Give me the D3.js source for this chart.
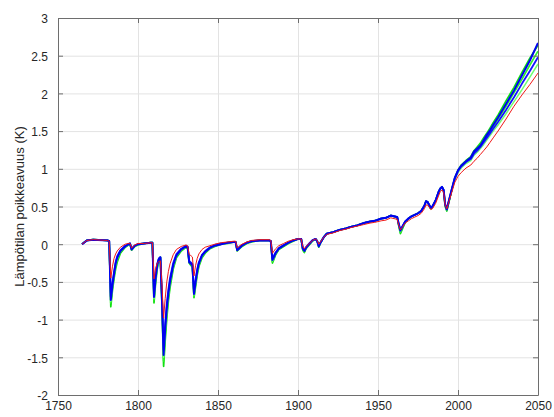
<!DOCTYPE html>
<html><head><meta charset="utf-8">
<script src="https://cdn.jsdelivr.net/npm/d3@7"></script>
<style>body{margin:0;background:#fff}svg{display:block}</style>
</head><body><svg id="c" width="554" height="417"></svg>
<script>
// ---- data ----
const years = [
1765,1768,1772,1781,1782,1783,1784,1785,1786,1787,
1789,1792,1794,1795,1796,1798,1800,1804,1808,1809,
1810,1811,1812,1813,1814,1815,1816,1817,1818,1819,
1820,1822,1824,1827,1830,1831,1832,1833,1834,1835,
1836,1837,1838,1840,1842,1845,1848,1852,1856,1860,
1861,1862,1863,1865,1868,1871,1876,1882,1883,1884,
1885,1886,1888,1891,1894,1897,1900,1902,1903,1904,
1905,1907,1909,1911,1912,1913,1914,1916,1918,1922,
1926,1930,1933,1937,1941,1945,1948,1952,1955,1958,
1960,1962,1963,1964,1965,1967,1969,1971,1973,1975,
1977,1979,1980,1981,1982,1983,1984,1986,1988,1989,
1990,1991,1992,1993,1994,1996,1998,2000,2002,2005,
2008,2010,2012,2014,2016,2018,2020,2022,2025,2030,2035,2040,2045,2050];

const green1 = [
0.00,0.05,0.06,0.05,0.04,-0.83,-0.62,-0.46,-0.33,-0.24,
-0.12,-0.04,-0.01,0.00,-0.08,-0.03,-0.01,0.01,0.02,0.02,
-0.78,-0.52,-0.33,-0.22,-0.18,-0.82,-1.62,-1.28,-0.98,-0.75,
-0.58,-0.33,-0.18,-0.09,-0.04,-0.05,-0.25,-0.28,-0.30,-0.71,
-0.56,-0.41,-0.30,-0.18,-0.12,-0.06,-0.03,0.00,0.01,0.03,
0.03,-0.09,-0.07,-0.03,0.01,0.03,0.05,0.05,0.04,-0.25,
-0.20,-0.14,-0.07,-0.03,0.01,0.04,0.07,0.07,-0.08,-0.11,
-0.06,-0.01,0.04,0.07,0.04,-0.04,0.01,0.09,0.14,0.16,
0.19,0.21,0.23,0.25,0.28,0.30,0.31,0.34,0.35,0.38,
0.37,0.36,0.24,0.14,0.19,0.29,0.34,0.37,0.39,0.41,
0.44,0.51,0.57,0.56,0.51,0.47,0.49,0.58,0.70,0.74,
0.76,0.71,0.50,0.44,0.53,0.71,0.88,0.98,1.05,1.11,
1.16,1.24,1.29,1.34,1.41,1.47,1.54,1.61,1.71,1.90,2.08,2.28,2.47,2.64];

const green2 = [
0.00,0.05,0.06,0.05,0.04,-0.78,-0.58,-0.42,-0.29,-0.20,
-0.10,-0.03,0.00,0.01,-0.07,-0.02,0.00,0.01,0.02,0.02,
-0.74,-0.48,-0.30,-0.20,-0.17,-0.78,-1.55,-1.20,-0.92,-0.70,
-0.54,-0.30,-0.16,-0.08,-0.03,-0.04,-0.24,-0.27,-0.29,-0.69,
-0.53,-0.38,-0.28,-0.16,-0.11,-0.05,-0.02,0.00,0.02,0.03,
0.03,-0.08,-0.06,-0.02,0.02,0.04,0.05,0.05,0.04,-0.23,
-0.18,-0.13,-0.06,-0.02,0.02,0.05,0.07,0.07,-0.07,-0.10,
-0.05,0.00,0.05,0.07,0.04,-0.03,0.02,0.09,0.14,0.16,
0.19,0.21,0.23,0.25,0.28,0.30,0.31,0.34,0.35,0.38,
0.37,0.36,0.25,0.16,0.21,0.30,0.34,0.37,0.39,0.41,
0.44,0.51,0.57,0.56,0.52,0.48,0.50,0.58,0.70,0.74,
0.76,0.72,0.51,0.45,0.54,0.71,0.87,0.97,1.03,1.09,
1.14,1.21,1.26,1.31,1.37,1.43,1.49,1.56,1.66,1.83,2.01,2.19,2.38,2.56];

const green3 = [
0.00,0.05,0.06,0.05,0.04,-0.76,-0.56,-0.40,-0.27,-0.19,
-0.09,-0.03,0.00,0.01,-0.07,-0.02,0.00,0.01,0.02,0.02,
-0.72,-0.46,-0.29,-0.20,-0.17,-0.76,-1.50,-1.16,-0.88,-0.67,
-0.51,-0.29,-0.15,-0.07,-0.03,-0.04,-0.23,-0.26,-0.28,-0.67,
-0.51,-0.37,-0.27,-0.15,-0.10,-0.05,-0.02,0.00,0.02,0.03,
0.03,-0.08,-0.06,-0.02,0.02,0.04,0.05,0.05,0.04,-0.22,
-0.18,-0.12,-0.06,-0.02,0.02,0.05,0.07,0.07,-0.06,-0.09,
-0.05,0.00,0.05,0.07,0.04,-0.03,0.02,0.09,0.14,0.16,
0.19,0.21,0.23,0.25,0.28,0.30,0.31,0.34,0.35,0.38,
0.37,0.36,0.26,0.17,0.22,0.30,0.34,0.37,0.39,0.41,
0.44,0.51,0.57,0.56,0.52,0.48,0.50,0.58,0.70,0.74,
0.76,0.72,0.52,0.46,0.54,0.71,0.86,0.95,1.01,1.07,
1.11,1.18,1.22,1.27,1.32,1.38,1.44,1.50,1.58,1.73,1.89,2.05,2.22,2.39];

const blue1 = [
0.00,0.05,0.06,0.05,0.04,-0.74,-0.55,-0.40,-0.26,-0.18,
-0.09,-0.03,0.00,0.01,-0.07,-0.02,0.00,0.01,0.02,0.02,
-0.70,-0.45,-0.28,-0.20,-0.18,-0.75,-1.47,-1.12,-0.85,-0.65,
-0.50,-0.28,-0.15,-0.07,-0.03,-0.04,-0.24,-0.26,-0.28,-0.66,
-0.50,-0.36,-0.26,-0.15,-0.10,-0.05,-0.02,0.00,0.02,0.03,
0.03,-0.08,-0.06,-0.02,0.02,0.04,0.05,0.05,0.04,-0.21,
-0.17,-0.12,-0.06,-0.02,0.02,0.05,0.07,0.07,-0.06,-0.09,
-0.05,0.00,0.05,0.07,0.04,-0.03,0.02,0.09,0.14,0.16,
0.19,0.21,0.23,0.25,0.28,0.30,0.31,0.34,0.35,0.38,
0.37,0.36,0.26,0.18,0.22,0.30,0.34,0.37,0.39,0.41,
0.44,0.51,0.57,0.56,0.52,0.48,0.50,0.58,0.70,0.74,
0.76,0.72,0.52,0.46,0.55,0.72,0.88,0.98,1.04,1.10,
1.15,1.23,1.27,1.31,1.38,1.45,1.51,1.58,1.68,1.86,2.04,2.24,2.44,2.67];

const blue2 = [
0.00,0.05,0.06,0.05,0.04,-0.70,-0.52,-0.37,-0.24,-0.16,
-0.08,-0.02,0.00,0.01,-0.06,-0.02,0.00,0.01,0.02,0.02,
-0.66,-0.42,-0.26,-0.19,-0.17,-0.70,-1.40,-1.05,-0.79,-0.60,
-0.45,-0.25,-0.13,-0.06,-0.02,-0.03,-0.22,-0.24,-0.26,-0.63,
-0.47,-0.33,-0.24,-0.14,-0.09,-0.04,-0.01,0.01,0.02,0.03,
0.03,-0.07,-0.05,-0.01,0.02,0.04,0.05,0.05,0.04,-0.19,
-0.15,-0.11,-0.05,-0.01,0.02,0.05,0.07,0.07,-0.05,-0.08,
-0.04,0.01,0.05,0.07,0.04,-0.02,0.02,0.09,0.14,0.16,
0.19,0.21,0.23,0.25,0.28,0.30,0.31,0.34,0.35,0.38,
0.37,0.36,0.27,0.19,0.23,0.30,0.34,0.37,0.39,0.41,
0.44,0.51,0.57,0.56,0.52,0.48,0.50,0.58,0.70,0.74,
0.76,0.72,0.53,0.47,0.55,0.72,0.87,0.97,1.03,1.09,
1.13,1.20,1.24,1.29,1.35,1.41,1.47,1.53,1.62,1.78,1.95,2.13,2.30,2.48];

const red1 = [
0.00,0.05,0.06,0.05,0.04,-0.45,-0.30,-0.19,-0.13,-0.09,
-0.04,0.00,0.01,0.01,-0.05,-0.01,0.01,0.01,0.02,0.02,
-0.46,-0.32,-0.25,-0.23,-0.22,-0.55,-0.98,-0.72,-0.50,-0.36,
-0.26,-0.14,-0.07,-0.03,-0.01,-0.02,-0.14,-0.15,-0.17,-0.42,
-0.28,-0.19,-0.13,-0.07,-0.04,-0.02,0.00,0.02,0.03,0.04,
0.04,-0.05,-0.03,0.00,0.03,0.05,0.06,0.06,0.05,-0.12,
-0.09,-0.06,-0.02,0.01,0.04,0.06,0.07,0.07,-0.03,-0.06,
-0.03,0.01,0.05,0.07,0.05,0.00,0.03,0.09,0.13,0.15,
0.18,0.20,0.22,0.24,0.26,0.28,0.29,0.31,0.32,0.35,
0.34,0.33,0.25,0.19,0.22,0.28,0.31,0.34,0.36,0.38,
0.41,0.47,0.52,0.52,0.49,0.46,0.47,0.54,0.65,0.70,
0.72,0.69,0.52,0.47,0.54,0.68,0.82,0.90,0.95,1.01,
1.05,1.10,1.14,1.19,1.24,1.29,1.35,1.41,1.50,1.66,1.83,1.98,2.12,2.27];

const xTicks = [1750,1800,1850,1900,1950,2000,2050];
const yTicks = [-2,-1.5,-1,-0.5,0,0.5,1,1.5,2,2.5,3];
const yTickLabels = ["-2","-1.5","-1","-0.5","0","0.5","1","1.5","2","2.5","3"];
const yTitle = "Lämpötilan poikkeavuus (K)";

const seriesValues = [green1, green2, green3, blue2, blue1, red1];
const seriesColors = ["#10e010", "#30f030", "#70ff70", "#1414ff", "#0000f0", "#f01818"];
const seriesWidths = [1.7, 1.7, 1.5, 1.8, 2.0, 1.0];

// ---- drawing ----
const W = 554, H = 417;
const m = {left: 58, right: 16, top: 18, bottom: 22};
const svg = d3.select("#c");
const x = d3.scaleLinear().domain([1750, 2050]).range([m.left, W - m.right]);
const y = d3.scaleLinear().domain([-2, 3]).range([H - m.bottom, m.top]);
const iw = W - m.left - m.right, ih = H - m.top - m.bottom;
const font = "'Liberation Sans', Arial, Helvetica, sans-serif";
const axisColor = "#6e6e6e";
const textColor = "#262626";

// grid
const gx = svg.append("g").attr("transform", `translate(0,${H - m.bottom})`)
  .call(d3.axisBottom(x).tickValues(xTicks).tickSize(-ih).tickFormat(""));
const gy = svg.append("g").attr("transform", `translate(${m.left},0)`)
  .call(d3.axisLeft(y).tickValues(yTicks).tickSize(-iw).tickFormat(""));
[gx, gy].forEach(g => {
  g.select(".domain").remove();
  g.selectAll("line").attr("stroke", "#e3e3e3").attr("stroke-width", 1);
});

// lines
svg.append("clipPath").attr("id", "pc").append("rect")
  .attr("x", m.left).attr("y", m.top).attr("width", iw).attr("height", ih);
const line = d3.line().x((d, i) => x(years[i])).y(d => y(d));
const lg = svg.append("g").attr("clip-path", "url(#pc)");
seriesValues.forEach((vals, k) => {
  lg.append("path").datum(vals).attr("d", line)
    .attr("fill", "none").attr("stroke", seriesColors[k])
    .attr("stroke-width", seriesWidths[k]).attr("stroke-linejoin", "round");
});

// axes (ticks inward on all four sides)
function styleAxis(g) {
  g.select(".domain").attr("stroke", axisColor).attr("stroke-width", 1);
  g.selectAll(".tick line").attr("stroke", axisColor);
  g.selectAll("text").attr("fill", textColor).style("font-family", font).style("font-size", "12px");
}
const ab = svg.append("g").attr("transform", `translate(0,${H - m.bottom})`)
  .call(d3.axisBottom(x).tickValues(xTicks).tickSizeInner(-5).tickSizeOuter(0).tickPadding(8).tickFormat(d => String(d)));
styleAxis(ab);
ab.selectAll("text").attr("dy", "0.55em");
const at = svg.append("g").attr("transform", `translate(0,${m.top})`)
  .call(d3.axisTop(x).tickValues(xTicks).tickSizeInner(-5).tickSizeOuter(0).tickFormat(""));
styleAxis(at);
const al = svg.append("g").attr("transform", `translate(${m.left},0)`)
  .call(d3.axisLeft(y).tickValues(yTicks).tickSizeInner(-5).tickSizeOuter(0).tickPadding(10)
    .tickFormat((d, i) => yTickLabels[i]));
styleAxis(al);
al.selectAll("text").attr("dy", "0.4em");
const ar = svg.append("g").attr("transform", `translate(${W - m.right},0)`)
  .call(d3.axisRight(y).tickValues(yTicks).tickSizeInner(-5).tickSizeOuter(0).tickFormat(""));
styleAxis(ar);

// y title
svg.append("text")
  .attr("transform", `translate(24,${m.top + ih / 2}) rotate(-90)`)
  .attr("text-anchor", "middle")
  .attr("fill", textColor)
  .style("font-family", font).style("font-size", "13px")
  .text(yTitle);
</script>
</body></html>
